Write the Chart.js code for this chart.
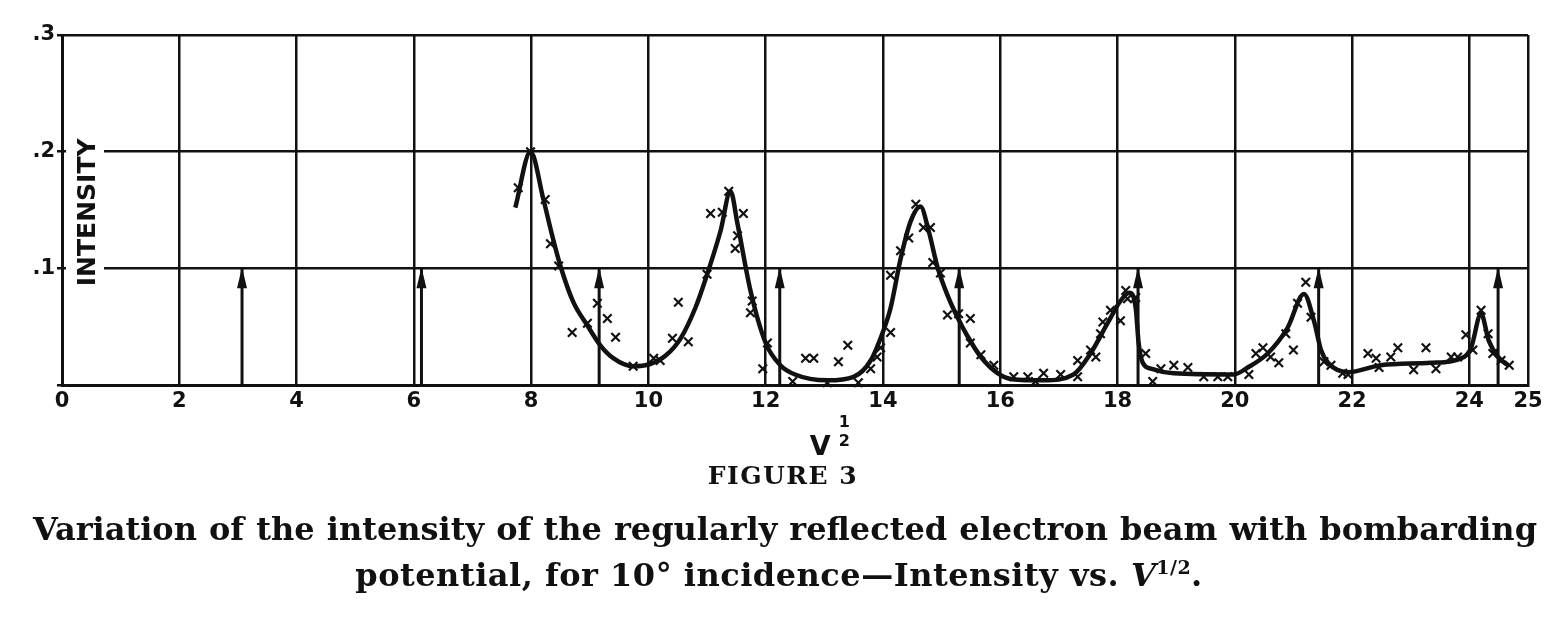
<!DOCTYPE html>
<html>
<head>
<meta charset="utf-8">
<script src="https://cdn.jsdelivr.net/npm/chart.js@4"></script>
<style>
  body { margin: 0; background: #fff; }
  #wrap { position: relative; width: 1566px; height: 620px; }
  canvas { position: absolute; left: 0; top: 0; }
  .cap { position: absolute; font-family: "DejaVu Serif", "Liberation Serif", serif; font-weight: bold; color: #111; white-space: nowrap; }
  #fig { left: 0; width: 1566px; top: 461px; text-align: center; font-size: 25px; letter-spacing: 1.5px; }
  #l1 { left: 33px; width: 1504px; top: 510px; font-size: 32px; text-align: justify; text-align-last: justify; }
  #l2 { left: 0; width: 1558px; top: 556px; font-size: 32px; letter-spacing: 0.5px; text-align: center; }
</style>
</head>
<body>
<div id="wrap">
  <canvas id="grafico" width="1566" height="620"></canvas>
  <div class="cap" id="fig">FIGURE 3</div>
  <div class="cap" id="l1">Variation of the intensity of the regularly reflected electron beam with bombarding</div>
  <div class="cap" id="l2">potential, for 10° incidence—Intensity vs. <i>V</i><sup style="font-size:19px">1/2</sup>.</div>
</div>
<script>
// axis ticks
var xTicks = [0, 2, 4, 6, 8, 10, 12, 14, 16, 18, 20, 22, 24, 25];
var yTicks = [0, 0.1, 0.2, 0.3];

// smooth curve drawn through the measurements
var curveX = [7.73, 7.99, 8.21, 8.36, 8.5, 8.72, 8.96, 9.18, 9.4, 9.74, 10.03, 10.29, 10.55, 10.8, 10.97, 11.23, 11.4, 11.52, 11.74, 12.0, 12.25, 12.5,
  13.05, 13.5, 13.79, 14.01, 14.13, 14.3, 14.47, 14.64, 14.78, 14.93, 15.1, 15.27, 15.44, 15.67, 15.96, 16.2, 16.74, 17.25, 17.54, 17.83, 18.05, 18.2,
  18.31, 18.36, 18.43, 18.57, 18.96, 19.98, 20.22, 20.56, 20.9, 21.18, 21.35, 21.47, 21.59, 21.93, 22.49, 23.34, 23.91, 24.03, 24.2, 24.33, 24.49, 24.66];
var curveY = [0.152, 0.200, 0.159, 0.128, 0.102, 0.071, 0.051, 0.034, 0.023, 0.016, 0.018, 0.025, 0.040, 0.066, 0.090, 0.132, 0.166, 0.138, 0.081, 0.036, 0.017, 0.009,
  0.004, 0.007, 0.021, 0.047, 0.066, 0.108, 0.140, 0.153, 0.132, 0.101, 0.077, 0.058, 0.042, 0.024, 0.010, 0.005, 0.004, 0.009, 0.027, 0.053, 0.072, 0.079,
  0.066, 0.036, 0.019, 0.014, 0.010, 0.009, 0.015, 0.027, 0.049, 0.078, 0.055, 0.030, 0.019, 0.011, 0.017, 0.019, 0.024, 0.032, 0.061, 0.038, 0.024, 0.017];

// measured points (x marks)
var medX = [7.78, 7.99, 8.24, 8.33, 8.47, 8.70, 8.96, 9.13, 9.30, 9.44, 9.74, 10.09, 10.2, 10.41, 10.51, 10.68, 11.0, 11.06, 11.26, 11.37,
  11.48, 11.52, 11.62, 11.74, 11.77, 11.95, 12.03, 12.46, 12.68, 12.82, 13.05, 13.24, 13.4, 13.58, 13.79, 13.9, 13.96, 14.13, 14.13, 14.3,
  14.44, 14.56, 14.69, 14.81, 14.85, 14.98, 15.1, 15.29, 15.49, 15.49, 15.67, 15.89, 16.23, 16.47, 16.6, 16.74, 17.03, 17.32, 17.32, 17.54,
  17.63, 17.71, 17.75, 17.88, 18.05, 18.14, 18.17, 18.31, 18.48, 18.6, 18.74, 18.96, 19.2, 19.47, 19.71, 19.88, 20.24, 20.36, 20.48, 20.61,
  20.75, 20.87, 21.0, 21.07, 21.21, 21.3, 21.52, 21.64, 21.84, 21.93, 22.27, 22.41, 22.46, 22.66, 22.78, 23.05, 23.26, 23.43, 23.69, 23.8,
  23.94, 24.06, 24.2, 24.32, 24.4, 24.54, 24.68];
var medY = [0.169, 0.200, 0.159, 0.121, 0.102, 0.045, 0.053, 0.070, 0.057, 0.041, 0.016, 0.023, 0.021, 0.040, 0.071, 0.037, 0.095, 0.147, 0.148, 0.166,
  0.117, 0.128, 0.147, 0.062, 0.072, 0.014, 0.036, 0.003, 0.023, 0.023, 0.002, 0.020, 0.034, 0.002, 0.014, 0.024, 0.032, 0.045, 0.094, 0.115,
  0.126, 0.155, 0.135, 0.135, 0.105, 0.096, 0.060, 0.061, 0.057, 0.036, 0.026, 0.017, 0.007, 0.007, 0.003, 0.010, 0.009, 0.007, 0.021, 0.030,
  0.024, 0.044, 0.054, 0.064, 0.055, 0.081, 0.074, 0.075, 0.027, 0.003, 0.014, 0.017, 0.015, 0.007, 0.007, 0.007, 0.009, 0.027, 0.032, 0.024,
  0.019, 0.044, 0.030, 0.070, 0.088, 0.058, 0.020, 0.017, 0.010, 0.009, 0.027, 0.023, 0.015, 0.024, 0.032, 0.013, 0.032, 0.014, 0.024, 0.024,
  0.043, 0.030, 0.064, 0.044, 0.027, 0.021, 0.017];

// vertical arrows
var flechaX = [3.07, 6.13, 9.16, 12.24, 15.3, 18.35, 21.43, 24.49];
var flechaY = 0.1;

var curva = [];
for (var i = 0; i < curveX.length; i++) {
  curva.push({x: curveX[i], y: curveY[i]});
}
var pontos = [];
for (var i = 0; i < medX.length; i++) {
  pontos.push({x: medX[i], y: medY[i]});
}
var flechas = [];
for (var i = 0; i < flechaX.length; i++) {
  flechas.push({x: flechaX[i], y: 0});
  flechas.push({x: flechaX[i], y: flechaY});
  flechas.push({x: flechaX[i], y: null});
}

var tinta = '#111';
var fonteEixo = {family: '"DejaVu Sans", sans-serif', weight: 'bold', size: 21};

var decoracao = {
  id: 'decoracao',
  beforeDatasetsDraw: function (chart) {
    var ctx = chart.ctx;
    var y = chart.scales.y;
    // white box behind the y title, breaking the grid lines
    ctx.save();
    ctx.fillStyle = '#fff';
    ctx.fillRect(chart.chartArea.left + 4, y.getPixelForValue(0.235), 38, y.getPixelForValue(0.065) - y.getPixelForValue(0.235));
    ctx.translate(chart.chartArea.left + 26, y.getPixelForValue(0.148));
    ctx.rotate(-Math.PI / 2);
    ctx.fillStyle = tinta;
    ctx.font = 'bold 25px "DejaVu Sans", sans-serif';
    ctx.textAlign = 'center';
    ctx.textBaseline = 'middle';
    ctx.fillText('INTENSITY', 0, 0);
    ctx.restore();
  },
  afterDatasetsDraw: function (chart) {
    var ctx = chart.ctx;
    var meta = chart.getDatasetMeta(2);
    ctx.save();
    ctx.fillStyle = tinta;
    for (var i = 1; i < meta.data.length; i += 3) {
      var p = meta.data[i];
      ctx.beginPath();
      ctx.moveTo(p.x, p.y - 1);
      ctx.lineTo(p.x - 5, p.y + 20);
      ctx.lineTo(p.x + 5, p.y + 20);
      ctx.closePath();
      ctx.fill();
    }
    // x axis title V^(1/2)
    var xs = chart.scales.x;
    var cx = xs.getPixelForValue(12.93);
    ctx.textAlign = 'center';
    ctx.textBaseline = 'alphabetic';
    ctx.font = 'bold 27px "DejaVu Sans", sans-serif';
    ctx.fillText('V', cx, 455);
    ctx.font = 'bold 16px "DejaVu Sans", sans-serif';
    ctx.fillText('1', cx + 24, 427);
    ctx.fillText('2', cx + 24, 446);
    ctx.restore();
  }
};

var grafico = new Chart(document.getElementById('grafico'), {
  type: 'scatter',
  data: {
    datasets: [
      {
        data: curva,
        showLine: true,
        borderColor: tinta,
        borderWidth: 4.5,
        pointRadius: 0,
        cubicInterpolationMode: 'monotone',
        fill: false
      },
      {
        data: pontos,
        showLine: false,
        pointStyle: 'crossRot',
        pointRadius: 6,
        borderColor: tinta,
        borderWidth: 2.2,
        clip: false
      },
      {
        data: flechas,
        showLine: true,
        spanGaps: false,
        borderColor: tinta,
        borderWidth: 3,
        pointRadius: 0
      }
    ]
  },
  plugins: [decoracao],
  options: {
    responsive: false,
    animation: false,
    layout: {padding: {left: 6, right: 38, top: 35, bottom: 205}},
    plugins: {legend: {display: false}, tooltip: {enabled: false}},
    scales: {
      x: {
        type: 'linear',
        min: 0,
        max: 25,
        afterBuildTicks: function (s) {
          s.ticks = xTicks.map(function (v) { return {value: v}; });
        },
        afterFit: function (s) { s.height = 30; },
        grid: {color: tinta, lineWidth: 2.5, drawTicks: false},
        border: {color: tinta, width: 3},
        ticks: {color: tinta, font: fonteEixo, padding: 4, maxRotation: 0, autoSkip: false}
      },
      y: {
        type: 'linear',
        min: 0,
        max: 0.3,
        afterBuildTicks: function (s) {
          s.ticks = yTicks.map(function (v) { return {value: v}; });
        },
        afterFit: function (s) { s.width = 56; },
        grid: {color: tinta, lineWidth: 2.5, tickLength: 5},
        border: {color: tinta, width: 3},
        ticks: {
          color: tinta,
          font: fonteEixo,
          padding: 2,
          callback: function (v) { return v === 0 ? '' : '.' + Math.round(v * 10); }
        }
      }
    }
  }
});
</script>
</body>
</html>
